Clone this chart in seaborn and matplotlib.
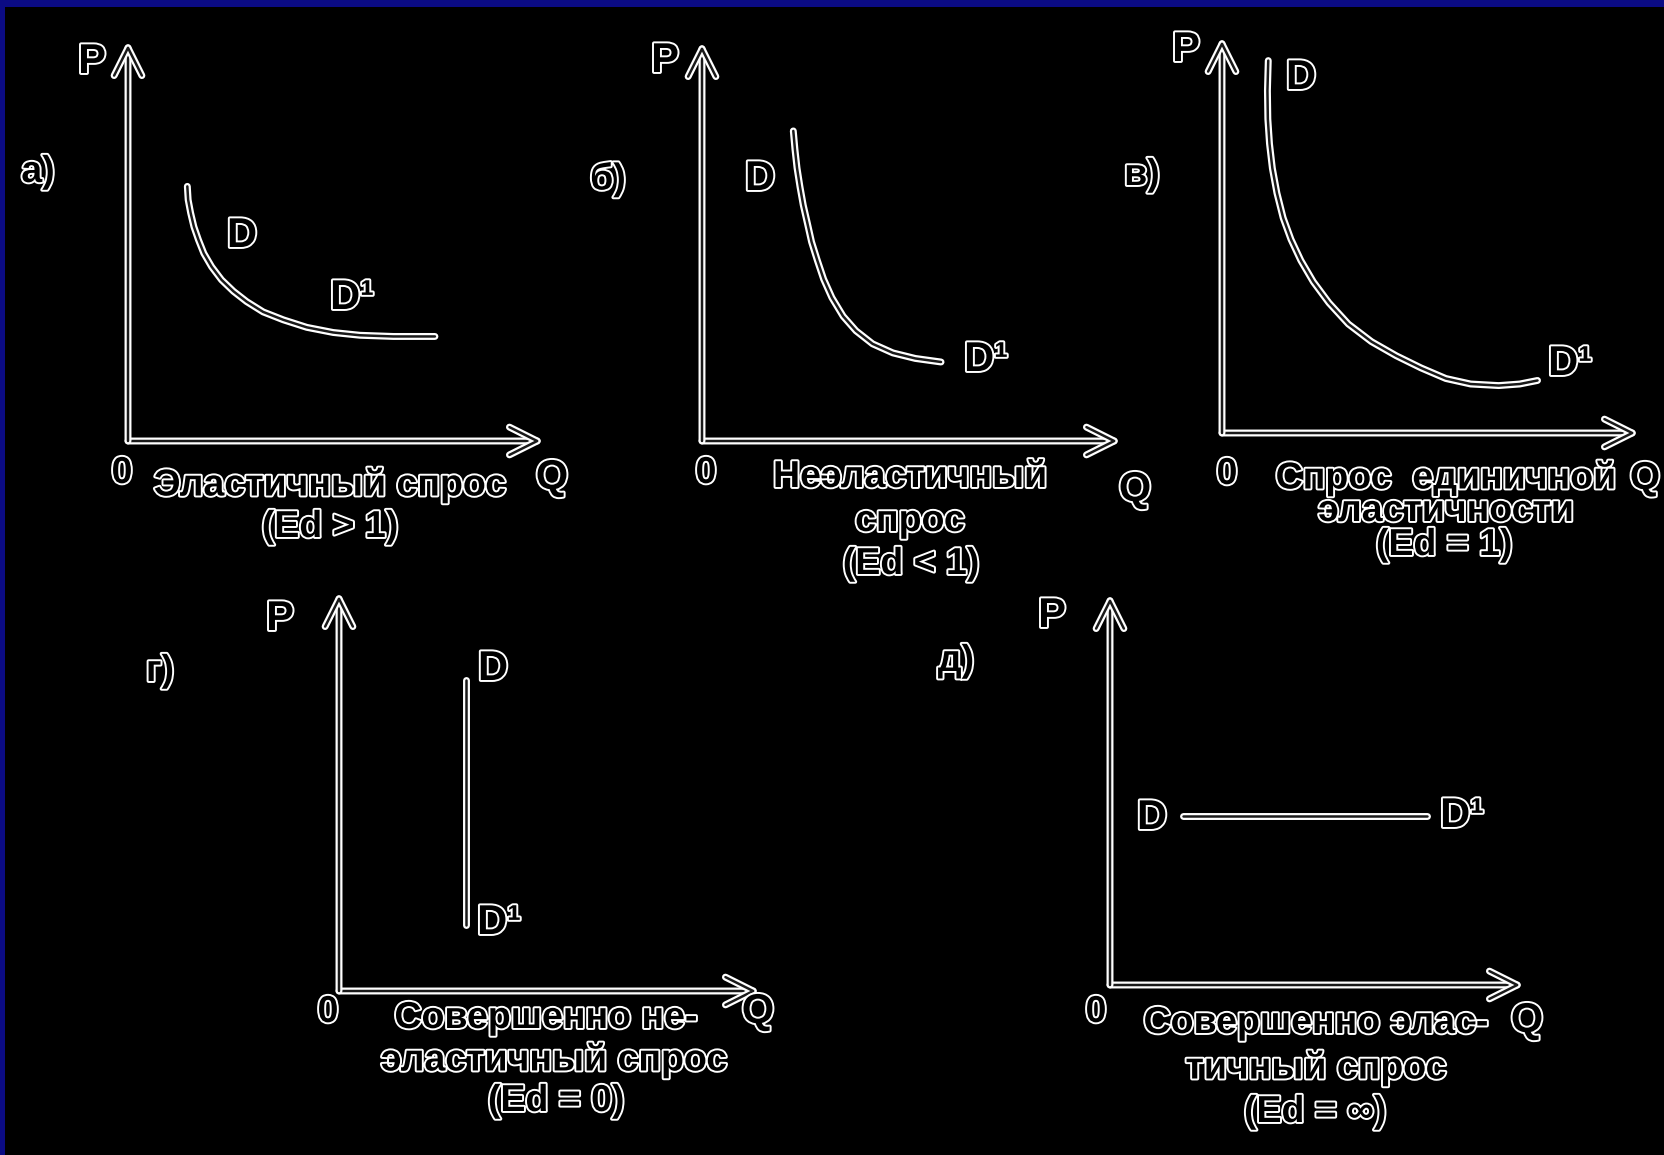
import seaborn as sns
import matplotlib.pyplot as plt
import matplotlib.patheffects as pe
from matplotlib.patches import Rectangle

# Кривые спроса (Q, P) в условных единицах 0..10
q_elastic = [1.44, 1.46, 1.52, 1.60, 1.71, 1.84, 2.03, 2.27, 2.56, 2.88, 3.28, 3.77,
             4.34, 4.98, 5.63, 6.44, 7.45]
p_elastic = [6.43, 6.09, 5.76, 5.41, 5.08, 4.74, 4.40, 4.07, 3.78, 3.52, 3.26, 3.06,
             2.87, 2.74, 2.67, 2.64, 2.64]

q_inelastic = [2.20, 2.24, 2.29, 2.36, 2.44, 2.54, 2.64, 2.78, 2.93, 3.13, 3.40, 3.71,
               4.11, 4.60, 5.14, 5.76]
p_inelastic = [7.85, 7.38, 6.91, 6.44, 5.97, 5.51, 5.04, 4.57, 4.10, 3.63, 3.16, 2.79,
               2.46, 2.23, 2.09, 2.00]

q_unit = [1.12, 1.10, 1.11, 1.15, 1.22, 1.33, 1.48, 1.67, 1.91, 2.21, 2.59, 3.06,
          3.62, 4.22, 4.82, 5.42, 6.02, 6.70, 7.21, 7.64]
p_unit = [9.50, 8.73, 8.01, 7.38, 6.75, 6.12, 5.49, 4.94, 4.40, 3.86, 3.32, 2.78,
          2.33, 1.97, 1.66, 1.39, 1.25, 1.21, 1.25, 1.34]

q_perf_inelastic = [3.05, 3.05]
p_perf_inelastic = [7.87, 1.68]

q_perf_elastic = [1.79, 7.73]
p_perf_elastic = [4.37, 4.37]

letters = ['а)', 'б)', 'в)', 'г)', 'д)']
captions = [
    ['Эластичный спрос', '(Ed > 1)'],
    ['Неэластичный', 'спрос', '(Ed < 1)'],
    ['Спрос  единичной', 'эластичности', '(Ed = 1)'],
    ['Совершенно не-', 'эластичный спрос', '(Ed = 0)'],
    ['Совершенно элас-', 'тичный спрос', '(Ed = ∞)'],
]

W, H = 1664, 1155

sns.set_theme(style='white')
FONT = ['Liberation Sans Narrow', 'Liberation Sans', 'DejaVu Sans']
plt.rcParams['font.family'] = FONT

fig = plt.figure(figsize=(W / 100, H / 100), dpi=100)
fig.patch.set_facecolor('#0b0b84')
fig.add_artist(Rectangle((5 / W, 0), 1 - 5 / W, 1 - 7 / H, transform=fig.transFigure,
                         facecolor='black', edgecolor='none', zorder=-5))

line_fx = [pe.Stroke(linewidth=5.0, foreground='white'), pe.Normal()]
text_fx = [pe.withStroke(linewidth=2.8, foreground='white')]


def put(x, y, s, size=27, **kw):
    # x, y - пиксели картинки
    fig.text(x / W, 1 - y / H, s, ha='center', va='center', fontsize=size,
             fontweight='bold', color='black', path_effects=text_fx, **kw)


def panel(box, q, p):
    L, B, R, T = box
    ax = fig.add_axes([L / W, 1 - B / H, (R - L) / W, (B - T) / H])
    ax.set_xlim(0, 10)
    ax.set_ylim(0, 10)
    ax.set_axis_off()
    for end in [(1, 0), (0, 1)]:
        ax.annotate('', xy=end, xytext=(0, 0), xycoords='axes fraction',
                    arrowprops=dict(arrowstyle='->,head_length=1.0,head_width=0.5',
                                    mutation_scale=20, color='#1a1a1a', lw=1.8,
                                    shrinkA=0, shrinkB=0, path_effects=line_fx))
    sns.lineplot(x=q, y=p, ax=ax, sort=False, estimator=None, color='#1a1a1a',
                 lw=1.8, path_effects=line_fx, clip_on=False)
    return ax


# а) эластичный спрос
panel((128, 441, 540, 45), q_elastic, p_elastic)
put(92, 62, 'P', 30)
put(38, 172, letters[0])
put(242, 236, 'D', 30)
put(352, 298, 'D¹', 30)
put(122, 473, '0')
put(552, 478, 'Q', 30)
put(330, 485, captions[0][0])
put(330, 527, captions[0][1])

# б) неэластичный спрос
panel((702, 441, 1117, 46), q_inelastic, p_inelastic)
put(665, 61, 'P', 30)
put(608, 179, letters[1])
put(760, 179, 'D', 30)
put(986, 360, 'D¹', 30)
put(706, 473, '0')
put(1135, 490, 'Q', 30)
put(910, 477, captions[1][0])
put(910, 521, captions[1][1])
put(911, 564, captions[1][2])

# в) единичная эластичность
panel((1222, 433, 1635, 41), q_unit, p_unit)
put(1186, 50, 'P', 30)
put(1142, 175, letters[2])
put(1301, 78, 'D', 30)
put(1570, 364, 'D¹', 30)
put(1227, 474, '0')
put(1645, 479, 'Q', 28)
put(1446, 478, captions[2][0])
put(1446, 511, captions[2][1])
put(1444, 545, captions[2][2])

# г) совершенно неэластичный спрос
panel((339, 991, 756, 596), q_perf_inelastic, p_perf_inelastic)
put(280, 619, 'P', 30)
put(160, 671, letters[3])
put(493, 669, 'D', 30)
put(499, 923, 'D¹', 30)
put(328, 1012, '0')
put(758, 1012, 'Q', 30)
put(546, 1018, captions[3][0])
put(554, 1060, captions[3][1])
put(556, 1101, captions[3][2])

# д) совершенно эластичный спрос
panel((1110, 985, 1520, 598), q_perf_elastic, p_perf_elastic)
put(1052, 616, 'P', 30)
put(956, 661, letters[4])
put(1152, 818, 'D', 30)
put(1462, 816, 'D¹', 30)
put(1096, 1012, '0')
put(1527, 1021, 'Q', 30)
put(1316, 1023, captions[4][0])
put(1316, 1068, captions[4][1])
put(1315, 1112, captions[4][2])

fig.savefig('out.png', dpi=100, facecolor=fig.get_facecolor())
